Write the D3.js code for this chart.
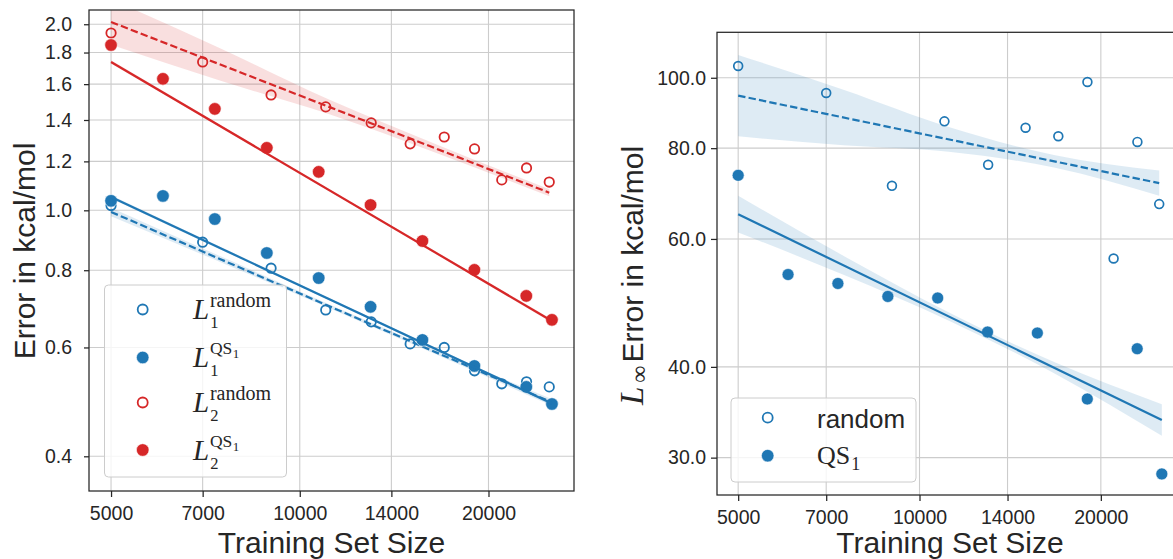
<!DOCTYPE html>
<html><head><meta charset="utf-8">
<script src="https://cdn.jsdelivr.net/npm/d3@7"></script>
<style>body{margin:0;background:#fff}svg{display:block}</style>
</head><body>
<svg id="c" width="1173" height="559"></svg>
<script>
// ---------- data ----------
const xRandom = [5000, 7000, 9000, 11000, 13000, 15000, 17000, 19000, 21000, 23000, 25000];
const xQS = [5000, 6050, 7320, 8860, 10720, 12970, 15690, 18990, 22980, 25250];
const l1Random = [1.018, 0.888, 0.806, 0.690, 0.660, 0.608, 0.600, 0.550, 0.524, 0.528, 0.518];
const l1QS = [1.036, 1.055, 0.968, 0.853, 0.777, 0.698, 0.617, 0.560, 0.518, 0.486];
const l2Random = [1.936, 1.738, 1.537, 1.470, 1.385, 1.281, 1.314, 1.257, 1.120, 1.171, 1.111];
const l2QS = [1.851, 1.632, 1.459, 1.262, 1.154, 1.020, 0.892, 0.801, 0.727, 0.665];
const linfRandom = [103.8, 95.3, 71.0, 87.1, 75.9, 85.35, 83.1, 98.65, 56.4, 81.6, 67.0];
const linfQS = [73.4, 53.6, 52.1, 50.0, 49.76, 44.67, 44.53, 36.13, 42.37, 28.49];
// fitted trend line value at the smallest and the largest training set size
const fitL1Random = [0.994, 0.491];
const fitL1QS = [1.051, 0.487];
const fitL2Random = [2.017, 1.068];
const fitL2QS = [1.738, 0.662];
const fitLinfRandom = [94.5, 71.6];
const fitLinfQS = [64.9, 33.8];
// confidence band half-width (log units) at 0, 25, 50, 75, 100 % of the fitted range
const bandL1Random = [0.016, 0.011, 0.007, 0.008, 0.012];
const bandL1QS = [0.006, 0.005, 0.004, 0.005, 0.006];
const bandL2Random = [0.085, 0.06, 0.027, 0.016, 0.013];
const bandL2QS = [0.006, 0.005, 0.004, 0.005, 0.006];
const bandLinfRandom = [0.129, 0.088, 0.039, 0.02, 0.04];
const bandLinfQS = [0.058, 0.03, 0.013, 0.018, 0.05];
const bandFractions = [0, 0.25, 0.5, 0.75, 1];
const xTicks = [5000, 7000, 10000, 14000, 20000];
const leftYTicks = [0.4, 0.6, 0.8, 1.0, 1.2, 1.4, 1.6, 1.8, 2.0];
const rightYTicks = [30, 40, 60, 80, 100];

// ---------- style ----------
const SANS = '"Liberation Sans", Arial, Helvetica, sans-serif';
const SERIF = '"Liberation Serif", "Times New Roman", serif';
const BLUE = '#1f77b4', RED = '#d62728', INK = '#262626', GRID = '#cccccc';

const svg = d3.select('#c');
const defs = svg.append('defs');

const allX = xRandom.concat(xQS);
const lxMin = Math.log(d3.min(allX)), lxMax = Math.log(d3.max(allX));
const pad = 0.05 * (lxMax - lxMin);
const xDomain = [Math.exp(lxMin - pad), Math.exp(lxMax + pad)];

function drawPanel(p) {
  const g = svg.append('g');
  const x = d3.scaleLog().domain(xDomain).range([p.x0, p.x1]);
  const y = d3.scaleLog().domain(p.yDomain).range([p.y1, p.y0]);

  g.append('g').selectAll('line').data(xTicks).join('line')
    .attr('x1', d => x(d)).attr('x2', d => x(d)).attr('y1', p.y0).attr('y2', p.y1)
    .attr('stroke', GRID).attr('stroke-width', 1.1);
  g.append('g').selectAll('line').data(p.yTicks).join('line')
    .attr('y1', d => y(d)).attr('y2', d => y(d)).attr('x1', p.x0).attr('x2', p.x1)
    .attr('stroke', GRID).attr('stroke-width', 1.1);

  const cid = 'clip' + p.id;
  defs.append('clipPath').attr('id', cid).append('rect')
    .attr('x', p.x0).attr('y', p.y0).attr('width', p.x1 - p.x0).attr('height', p.y1 - p.y0);
  const plot = g.append('g').attr('clip-path', `url(#${cid})`);

  p.series.forEach(s => {
    const pts0 = s.xs.map((d, i) => [d, s.ys[i]]);
    plot.append('g').selectAll('circle').data(pts0).join('circle')
      .attr('cx', d => x(d[0])).attr('cy', d => y(d[1]))
      .attr('r', s.filled ? p.rf : p.ro)
      .attr('fill', s.filled ? s.color : 'none')
      .attr('stroke', s.filled ? '#fff' : s.color)
      .attr('stroke-width', s.filled ? 0.6 : p.osw);
    const [xa, xb] = d3.extent(s.xs);
    const la = Math.log(xa), lb = Math.log(xb);
    const va = Math.log(s.fit[0]), vb = Math.log(s.fit[1]);
    const band = bandFractions.map((f, i) => {
      const lv = va + f * (vb - va);
      return {x: Math.exp(la + f * (lb - la)), lo: Math.exp(lv - s.band[i]), hi: Math.exp(lv + s.band[i])};
    });
    plot.append('path').datum(band)
      .attr('d', d3.area().curve(d3.curveMonotoneX).x(d => x(d.x)).y0(d => y(d.lo)).y1(d => y(d.hi)))
      .attr('fill', s.color).attr('fill-opacity', 0.15);
    plot.append('path').datum([[xa, s.fit[0]], [xb, s.fit[1]]])
      .attr('d', d3.line().x(d => x(d[0])).y(d => y(d[1])))
      .attr('fill', 'none').attr('stroke', s.color).attr('stroke-width', 2.2)
      .attr('stroke-dasharray', s.dashed ? '7.4,3.2' : null);
  });

  const ax = g.append('g').attr('transform', `translate(0,${p.y1})`)
    .call(d3.axisBottom(x).tickValues(xTicks).tickFormat(d3.format('d')).tickSize(6).tickPadding(9));
  const ay = g.append('g').attr('transform', `translate(${p.x0},0)`)
    .call(d3.axisLeft(y).tickValues(p.yTicks).tickFormat(d3.format('.1f')).tickSize(p.yTickSize).tickPadding(p.yTickPad));
  [ax, ay].forEach(a => {
    a.select('.domain').remove();
    a.selectAll('.tick line').attr('stroke', INK).attr('stroke-width', 1.25);
    a.selectAll('.tick text').attr('fill', INK).style('font-family', SANS).style('font-size', '19.5px');
  });

  g.append('rect').attr('x', p.x0).attr('y', p.y0).attr('width', p.x1 - p.x0).attr('height', p.y1 - p.y0)
    .attr('fill', 'none').attr('stroke', INK).attr('stroke-width', 1.25);

  g.append('text').attr('x', (p.x0 + p.x1) / 2).attr('y', 553).attr('text-anchor', 'middle')
    .attr('fill', INK).style('font-family', SANS).style('font-size', '30px').text('Training Set Size');
}

// ---------- left panel ----------
drawPanel({
  id: 'L', x0: 89, x1: 574, y0: 10, y1: 491, yDomain: [0.3515, 2.109], yTicks: leftYTicks,
  yTickSize: 5, yTickPad: 12, rf: 6.3, ro: 4.7, osw: 1.8,
  series: [
    {xs: xRandom, ys: l1Random, fit: fitL1Random, band: bandL1Random, color: BLUE, filled: false, dashed: true},
    {xs: xQS, ys: l1QS, fit: fitL1QS, band: bandL1QS, color: BLUE, filled: true, dashed: false},
    {xs: xRandom, ys: l2Random, fit: fitL2Random, band: bandL2Random, color: RED, filled: false, dashed: true},
    {xs: xQS, ys: l2QS, fit: fitL2QS, band: bandL2QS, color: RED, filled: true, dashed: false}
  ]
});
svg.append('text').attr('transform', 'translate(35,251) rotate(-90)').attr('text-anchor', 'middle')
  .attr('fill', INK).style('font-family', SANS).style('font-size', '30px').text('Error in kcal/mol');

// left legend
const lg = svg.append('g');
lg.append('rect').attr('x', 104.5).attr('y', 285).attr('width', 182).attr('height', 192).attr('rx', 4)
  .attr('fill', '#fff').attr('fill-opacity', 0.8).attr('stroke', '#cccccc').attr('stroke-width', 1);
const leftEntries = [
  {color: BLUE, filled: false, sub: '1', sup: 'random'},
  {color: BLUE, filled: true, sub: '1', sup: 'QS'},
  {color: RED, filled: false, sub: '2', sup: 'random'},
  {color: RED, filled: true, sub: '2', sup: 'QS'}
];
const legYs = [309.5, 357.5, 402.5, 450];
leftEntries.forEach((e, i) => {
  const my = legYs[i], by = my + 9.5;
  lg.append('circle').attr('cx', 142.7).attr('cy', my).attr('r', e.filled ? 6.3 : 5)
    .attr('fill', e.filled ? e.color : 'none').attr('stroke', e.filled ? '#fff' : e.color)
    .attr('stroke-width', e.filled ? 0.6 : 1.8);
  const t = lg.append('text').attr('x', 193).attr('y', by).attr('fill', INK).style('font-family', SERIF);
  t.append('tspan').style('font-style', 'italic').style('font-size', '29px').text('L');
  t.append('tspan').attr('dx', 1).attr('dy', 9).style('font-size', '16.5px').text(e.sub);
  if (e.sup === 'random') {
    t.append('tspan').attr('dx', -8.5).attr('dy', -21).style('font-size', '20px').text('random');
  } else {
    t.append('tspan').attr('dx', -8.5).attr('dy', -22).style('font-size', '17.5px').text('QS');
    t.append('tspan').attr('dx', 0.5).attr('dy', 4).style('font-size', '13px').text('1');
  }
});

// ---------- right panel ----------
drawPanel({
  id: 'R', x0: 717, x1: 1183, y0: 32.3, y1: 495, yDomain: [26.65, 115.5], yTicks: rightYTicks,
  yTickSize: 6, yTickPad: 5, rf: 6, ro: 4.4, osw: 1.7,
  series: [
    {xs: xRandom, ys: linfRandom, fit: fitLinfRandom, band: bandLinfRandom, color: BLUE, filled: false, dashed: true},
    {xs: xQS, ys: linfQS, fit: fitLinfQS, band: bandLinfQS, color: BLUE, filled: true, dashed: false}
  ]
});
const ryl = svg.append('text').attr('transform', 'translate(643,405) rotate(-90)').attr('fill', INK);
ryl.append('tspan').style('font-family', SERIF).style('font-style', 'italic').style('font-size', '33px').text('L');
ryl.append('tspan').attr('dx', 4).attr('dy', 4).style('font-family', SERIF).style('font-size', '24px').text('∞');
ryl.append('tspan').attr('dx', 3).attr('dy', -4).style('font-family', SANS).style('font-size', '30px').text('Error in kcal/mol');

// right legend
const rg = svg.append('g');
rg.append('rect').attr('x', 731).attr('y', 398).attr('width', 185).attr('height', 84).attr('rx', 4)
  .attr('fill', '#fff').attr('fill-opacity', 0.8).attr('stroke', '#cccccc').attr('stroke-width', 1);
rg.append('circle').attr('cx', 767.7).attr('cy', 417.7).attr('r', 5).attr('fill', 'none')
  .attr('stroke', BLUE).attr('stroke-width', 1.8);
rg.append('circle').attr('cx', 767.7).attr('cy', 455.7).attr('r', 6.3).attr('fill', BLUE)
  .attr('stroke', '#fff').attr('stroke-width', 0.6);
rg.append('text').attr('x', 817).attr('y', 427.5).attr('fill', INK)
  .style('font-family', SANS).style('font-size', '26px').text('random');
const qs = rg.append('text').attr('x', 817).attr('y', 463.5).attr('fill', INK).style('font-family', SERIF);
qs.append('tspan').style('font-size', '26px').text('QS');
qs.append('tspan').attr('dx', 1).attr('dy', 6.5).style('font-size', '18px').text('1');
</script>
</body></html>
